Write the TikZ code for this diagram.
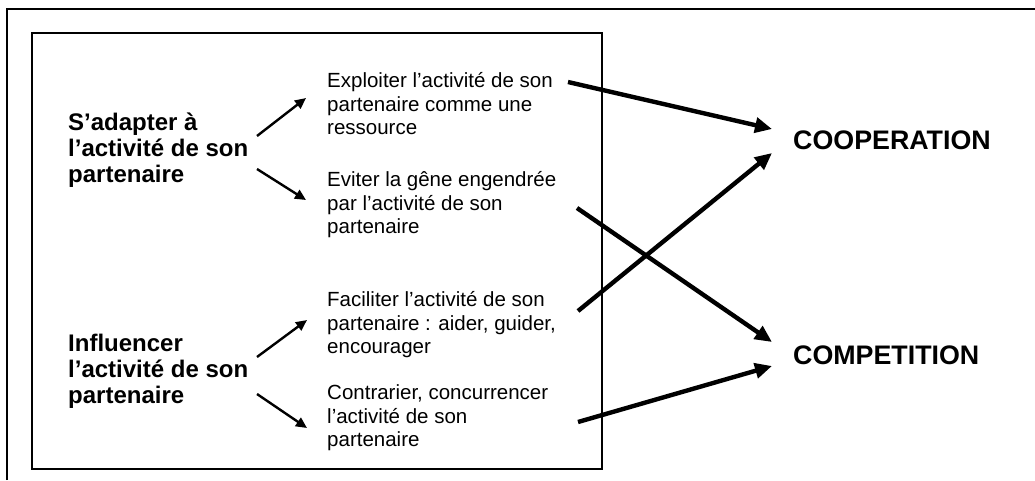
\documentclass[tikz,border=0pt]{standalone}
\usepackage{fontspec}
\setmainfont{Liberation Sans}
\usetikzlibrary{arrows.meta}
\begin{document}
\begin{tikzpicture}[x=1pt,y=-1pt,
  body/.style={anchor=west, align=left, inner sep=0pt, font=\fontsize{20.5}{23.5}\selectfont},
  lead/.style={anchor=west, align=left, inner sep=0pt, font=\fontsize{24}{26}\selectfont\bfseries},
  goal/.style={anchor=west, inner sep=0pt, font=\fontsize{26.8}{30}\selectfont\bfseries},
  small/.style={line width=2.4pt, -{Triangle[length=11pt,width=10pt]}},
  big/.style={line width=4.4pt, -{Triangle[length=17pt,width=15pt]}}]
\useasboundingbox (0,0) rectangle (1035,480);
\fill[white] (0,0) rectangle (1035,480);
\draw[line width=1.5pt] (7,480) -- (7,9) -- (1035,9);
\draw[line width=1.2pt] (32,33) rectangle (602,469);
\node[lead] (adapt) at (68,150) {S’adapter à\\l’activité de son\\partenaire};
\node[lead] (influ) at (68,371) {Influencer\\l’activité de son\\partenaire};
\node[body] (exploit) at (327,104) {Exploiter l’activité de son\\partenaire comme une\\ressource};
\node[body] (eviter) at (327,205) {Eviter la gêne engendrée\\par l’activité de son\\partenaire};
\node[body] (facil) at (327,325) {Faciliter l’activité de son\\partenaire : aider, guider,\\encourager};
\node[body] (contr) at (327,418) {Contrarier, concurrencer\\l’activité de son\\partenaire};
\node[goal] (coop) at (793,140) {COOPERATION};
\node[goal] (comp) at (793,355) {COMPETITION};
\draw[small] ([shift={(189,-14)}]adapt.west) -- ([shift={(-21,-6)}]exploit.west);
\draw[small] ([shift={(189,19)}]adapt.west) -- ([shift={(-21,-5)}]eviter.west);
\draw[small] ([shift={(189,-14)}]influ.west) -- ([shift={(-20,-5)}]facil.west);
\draw[small] ([shift={(189,23)}]influ.west) -- ([shift={(-20,10)}]contr.west);
\draw[big] ([shift={(241,-22)}]exploit.west) -- ([shift={(-21,-11)}]coop.west);
\draw[big] ([shift={(251,-14)}]facil.west) -- ([shift={(-21,13)}]coop.west);
\draw[big] ([shift={(250,3)}]eviter.west) -- ([shift={(-21,-13)}]comp.west);
\draw[big] ([shift={(251,4)}]contr.west) -- ([shift={(-21,11)}]comp.west);
\end{tikzpicture}
\end{document}
